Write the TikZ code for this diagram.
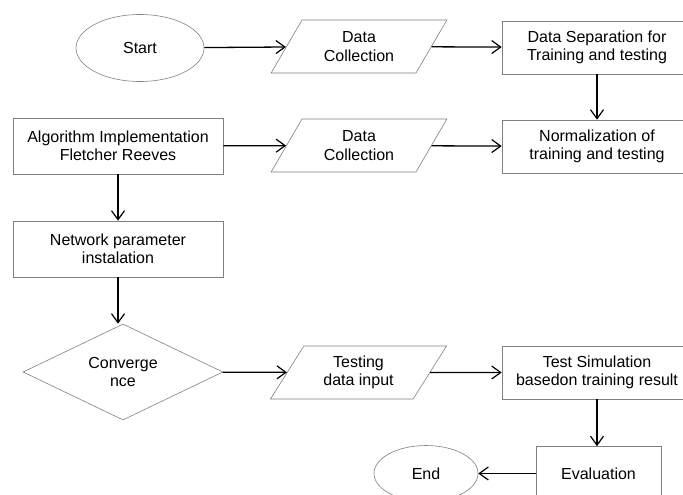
\documentclass[tikz,border=0pt]{standalone}
\usepackage{fontspec}
\setmainfont{Liberation Sans}
\usetikzlibrary{shapes.geometric,arrows.meta,positioning}

\begin{document}
\begin{tikzpicture}[x=1pt,y=-1pt,
  txt/.style={align=center,inner sep=0pt,font=\fontsize{16}{18.5}\selectfont},
  box/.style={txt,draw=black!50,line width=0.6pt,rectangle,minimum height=53pt},
  io/.style={txt,draw=black!50,line width=0.6pt,trapezium,trapezium stretches=true,
    trapezium left angle=57.3,trapezium right angle=122.7,minimum width=176pt,minimum height=53pt},
  term/.style={txt,draw=black!50,line width=0.6pt,ellipse},
  decide/.style={txt,draw=black!50,line width=0.6pt,diamond,aspect=2.08,minimum width=200pt,minimum height=96pt},
  arr/.style={-{Straight Barb[length=9pt,width=13pt,line width=1.2pt]},line width=1.3pt,black}]

\clip (0,0) rectangle (683,495);

% top row
\node[term,minimum width=128pt,minimum height=67pt] (start) at (140,48) {Start};
\node[io] (collect) at (359,46.5) {Data\\Collection};
\node[box,minimum width=190pt] (separate) at (597,47.5) {Data Separation for\\Training and testing};

% second row
\node[box,minimum width=210pt,minimum height=56pt] (algo) at (118,146) {Algorithm Implementation\\Fletcher Reeves};
\node[io] (collecttwo) at (359,145.5) {Data\\Collection};
\node[box,minimum width=190pt] (normal) at (597,146.5) {Normalization of\\training and testing};

% left column
\node[box,minimum width=210pt,minimum height=56pt] (param) at (118,249) {Network parameter\\instalation};
\node[decide] (conv) at (123,372) {Converge\\nce};

% bottom rows
\node[io] (testin) at (358.5,372.5) {Testing\\data input};
\node[box,minimum width=190pt] (simul) at (597,372.5) {Test Simulation\\basedon training result};
\node[box,minimum width=125pt,minimum height=54pt] (eval) at (598.5,473.5) {Evaluation};
\node[term,minimum width=104pt,minimum height=56pt] (stop) at (426,473.5) {End};

% connectors
\draw[arr] (start) -- (collect);
\draw[arr] (collect) -- (separate);
\draw[arr] (separate) -- (normal);
\draw[arr] (algo) -- (collecttwo);
\draw[arr] (collecttwo) -- (normal);
\draw[arr] (algo) -- (param);
\draw[arr] (param.south) -- (param.south |- conv.north);
\draw[arr] (conv) -- (testin);
\draw[arr] (testin) -- (simul);
\draw[arr] (simul.south) -- (simul.south |- eval.north);
\draw[arr] (eval) -- (stop);
\end{tikzpicture}
\end{document}
